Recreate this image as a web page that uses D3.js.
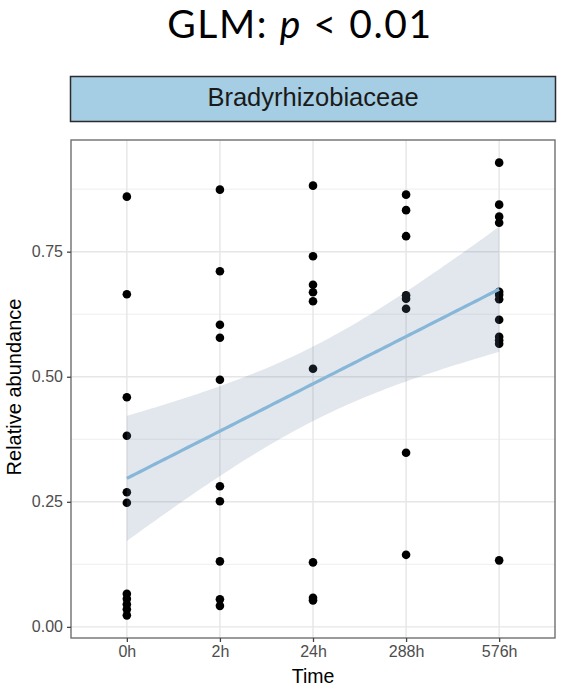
<!DOCTYPE html>
<html>
<head>
<meta charset="utf-8">
<script src="https://cdn.jsdelivr.net/npm/d3@7"></script>
<style>
  html, body { margin: 0; padding: 0; background: #fff; }
  svg { display: block; }
</style>
</head>
<body>
<svg id="chart" width="563" height="692"></svg>
<script>
// Sampling times (x categories)
const times = ["0h", "2h", "24h", "288h", "576h"];

// Relative abundance of Bradyrhizobiaceae per sample, grouped by time
const abund0h   = [0.860, 0.665, 0.459, 0.382, 0.269, 0.248, 0.066, 0.056, 0.045, 0.035, 0.023];
const abund2h   = [0.874, 0.711, 0.604, 0.578, 0.494, 0.281, 0.251, 0.131, 0.055, 0.042];
const abund24h  = [0.882, 0.741, 0.684, 0.669, 0.651, 0.516, 0.129, 0.058, 0.053];
const abund288h = [0.864, 0.833, 0.781, 0.663, 0.656, 0.636, 0.348, 0.144];
const abund576h = [0.928, 0.844, 0.820, 0.808, 0.670, 0.664, 0.655, 0.614, 0.580, 0.573, 0.566, 0.133];

// Axis ticks
const yTicks = [0, 0.25, 0.5, 0.75];
const yTickLabels = ["0.00", "0.25", "0.50", "0.75"];
const yMinor = [0.125, 0.375, 0.625, 0.875];

const stripLabel = "Bradyrhizobiaceae";
const xTitle = "Time";
const yTitle = "Relative abundance";

const groups = [abund0h, abund2h, abund24h, abund288h, abund576h];
const points = [];
groups.forEach((vals, i) => vals.forEach(v => points.push({ t: times[i], xi: i + 1, v })));

const svg = d3.select("#chart");
const FONT = "'Liberation Sans', Arial, Helvetica, sans-serif";

// Panel geometry
const panel = { left: 71, right: 555, top: 140, bottom: 638 };

const x = d3.scalePoint().domain(times).range([panel.left, panel.right]).padding(0.6);
const xNum = d3.scaleLinear().domain([1, times.length]).range([x(times[0]), x(times[times.length - 1])]);

const yExt = d3.extent(points, d => d.v);
const pad = (yExt[1] - yExt[0]) * 0.05;
const y = d3.scaleLinear().domain([yExt[0] - pad, yExt[1] + pad]).range([panel.bottom, panel.top]);

// Title
const title = svg.append("text")
  .attr("x", 300).attr("y", 38)
  .attr("text-anchor", "middle")
  .attr("font-family", "Lato, 'Open Sans', sans-serif")
  .attr("font-size", 39)
  .attr("letter-spacing", 1.6)
  .attr("fill", "#000");
title.append("tspan").text("GLM: ");
title.append("tspan").attr("font-style", "italic").text("p");
title.append("tspan").text(" < 0.01");

// Facet strip
svg.append("rect")
  .attr("x", panel.left - 0.5).attr("y", 76.5)
  .attr("width", panel.right - panel.left + 1).attr("height", 45)
  .attr("fill", "#a5cde3").attr("stroke", "#2b2b2b").attr("stroke-width", 1.5);
svg.append("text")
  .attr("x", (panel.left + panel.right) / 2).attr("y", 106)
  .attr("text-anchor", "middle")
  .attr("font-family", FONT).attr("font-size", 25.5)
  .attr("fill", "#1a1a1a")
  .text(stripLabel);

// Panel background + grid
const g = svg.append("g");
g.append("rect")
  .attr("x", panel.left).attr("y", panel.top)
  .attr("width", panel.right - panel.left).attr("height", panel.bottom - panel.top)
  .attr("fill", "#fff");

g.selectAll("line.minor").data(yMinor).join("line")
  .attr("x1", panel.left).attr("x2", panel.right)
  .attr("y1", d => y(d)).attr("y2", d => y(d))
  .attr("stroke", "#eeeeee").attr("stroke-width", 1);
g.selectAll("line.majorY").data(yTicks).join("line")
  .attr("x1", panel.left).attr("x2", panel.right)
  .attr("y1", d => y(d)).attr("y2", d => y(d))
  .attr("stroke", "#e6e6e6").attr("stroke-width", 1.4);
g.selectAll("line.majorX").data(times).join("line")
  .attr("x1", d => x(d)).attr("x2", d => x(d))
  .attr("y1", panel.top).attr("y2", panel.bottom)
  .attr("stroke", "#e6e6e6").attr("stroke-width", 1.4);

// Points
g.selectAll("circle.pt").data(points).join("circle")
  .attr("cx", d => x(d.t)).attr("cy", d => y(d.v))
  .attr("r", 4.3).attr("fill", "#000");

// Linear fit with 95% confidence band (x as category index)
const n = points.length;
const mx = d3.mean(points, d => d.xi), my = d3.mean(points, d => d.v);
const sxx = d3.sum(points, d => (d.xi - mx) ** 2);
const sxy = d3.sum(points, d => (d.xi - mx) * (d.v - my));
const slope = sxy / sxx, icpt = my - slope * mx;
const sse = d3.sum(points, d => (d.v - (icpt + slope * d.xi)) ** 2);
const df = n - 2;
const sigma = Math.sqrt(sse / df);
function tQuant975(nu) {
  const z = 1.959964;
  return z + (z ** 3 + z) / (4 * nu) + (5 * z ** 5 + 16 * z ** 3 + 3 * z) / (96 * nu * nu)
    + (3 * z ** 7 + 19 * z ** 5 + 17 * z ** 3 - 15 * z) / (384 * nu ** 3);
}
const tq = tQuant975(df);
const fit = d3.range(80).map(i => {
  const xv = 1 + (times.length - 1) * i / 79;
  const yh = icpt + slope * xv;
  const se = sigma * Math.sqrt(1 / n + (xv - mx) ** 2 / sxx);
  return { xv, yh, lo: yh - tq * se, hi: yh + tq * se };
});

g.append("path").datum(fit)
  .attr("d", d3.area().x(d => xNum(d.xv)).y0(d => y(d.lo)).y1(d => y(d.hi)))
  .attr("fill", "#64829f").attr("fill-opacity", 0.19);
g.append("path").datum(fit)
  .attr("d", d3.line().x(d => xNum(d.xv)).y(d => y(d.yh)))
  .attr("fill", "none").attr("stroke", "#86b6d8").attr("stroke-width", 3.2);

// Panel border
svg.append("rect")
  .attr("x", panel.left).attr("y", panel.top)
  .attr("width", panel.right - panel.left).attr("height", panel.bottom - panel.top)
  .attr("fill", "none").attr("stroke", "#6f6f6f").attr("stroke-width", 1.4);

// Axes
const yAxis = d3.axisLeft(y).tickValues(yTicks).tickFormat((d, i) => yTickLabels[i])
  .tickSize(4).tickPadding(4);
const ya = svg.append("g").attr("transform", `translate(${panel.left},0)`).call(yAxis);
const xAxis = d3.axisBottom(x).tickSize(4).tickPadding(4);
const xa = svg.append("g").attr("transform", `translate(0,${panel.bottom})`).call(xAxis);
[ya, xa].forEach(a => {
  a.select(".domain").remove();
  a.selectAll(".tick line").attr("stroke", "#444").attr("stroke-width", 1.3);
  a.selectAll(".tick text").attr("fill", "#4d4d4d")
    .attr("font-family", FONT).attr("font-size", 16);
});

// Axis titles
svg.append("text")
  .attr("x", (panel.left + panel.right) / 2).attr("y", 683)
  .attr("text-anchor", "middle")
  .attr("font-family", FONT).attr("font-size", 19.5).attr("fill", "#000")
  .text(xTitle);
svg.append("text")
  .attr("transform", `translate(21,${(panel.top + panel.bottom) / 2 - 2}) rotate(-90)`)
  .attr("text-anchor", "middle")
  .attr("font-family", FONT).attr("font-size", 20).attr("fill", "#000")
  .text(yTitle);
</script>
</body>
</html>
